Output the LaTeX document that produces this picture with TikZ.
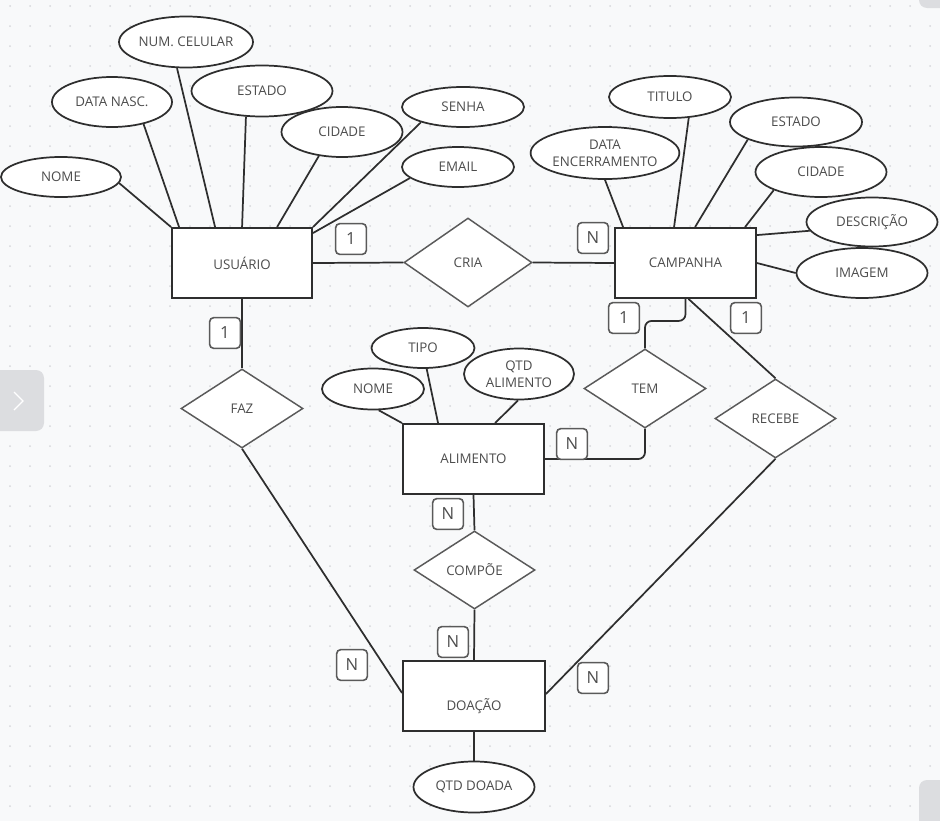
\documentclass[tikz,border=0pt]{standalone}
\usepackage{fontspec}
\setmainfont{Open Sans}
\usetikzlibrary{shapes.geometric}
\pgfdeclarelayer{grid}
\pgfdeclarelayer{edges}
\pgfsetlayers{grid,edges,main}
\definecolor{bgc}{HTML}{F8F9FA}
\definecolor{dotc}{HTML}{D6D8DB}
\definecolor{linec}{HTML}{2E2E2E}
\definecolor{txtc}{HTML}{4D4D4D}
\definecolor{diac}{HTML}{5A5A5A}
\definecolor{uic}{HTML}{DCDDE0}
\begin{document}
\begin{tikzpicture}[x=0.75pt,y=-0.75pt,
  erattr/.style 2 args={ellipse, draw=linec, line width=1.3pt, fill=white, inner sep=0pt,
    minimum width=#1*0.75pt, minimum height=#2*0.75pt,
    font=\fontsize{10}{12.75}\selectfont, text=txtc, align=center},
  erent/.style 2 args={rectangle, draw=linec, line width=1.4pt, fill=white, inner sep=0pt,
    minimum width=#1*0.75pt, minimum height=#2*0.75pt,
    font=\fontsize{10}{12}\selectfont, text=txtc},
  errel/.style 2 args={diamond, draw=diac, line width=1.1pt, fill=white, inner sep=0pt,
    minimum width=#1*0.75pt, minimum height=#2*0.75pt,
    font=\fontsize{10}{12}\selectfont, text=txtc},
  ercard/.style={draw=diac, line width=1.2pt, rounded corners=3pt, fill=white,
    minimum width=23pt, minimum height=23pt, inner sep=0pt,
    font=\fontsize{12.5}{14}\selectfont, text=txtc},
  erline/.style={draw=linec, line width=1.3pt}
]
\useasboundingbox (0,0) rectangle (940,821);
\begin{pgfonlayer}{grid}
  \clip (0,0) rectangle (940,821);
  \fill[bgc] (0,0) rectangle (940,821);
  \foreach \i in {0,...,46}{\foreach \j in {0,...,40}{\fill[dotc] (10+20*\i,6+20*\j) circle (0.75pt);}}
  \fill[uic, rounded corners=6pt] (-20,370) rectangle (44,431);
  \draw[white, line width=1pt] (14,392) -- (23,401) -- (14,410);
  \fill[uic, rounded corners=6pt] (919,780) rectangle (960,840);
  \fill[uic, rounded corners=6pt] (919,-20) rectangle (960,8);
\end{pgfonlayer}

% entities
\node[erent={140}{70}] (usuario) at (242,263) {USUÁRIO};
\node[erent={141}{70}] (campanha) at (685.5,263) {CAMPANHA};
\node[erent={141}{70}] (alimento) at (473.5,459) {ALIMENTO};
\node[erent={142}{70}, text height=22pt, text depth=0pt] (doacao) at (474,696) {DOAÇÃO};

% relationships
\node[errel={128}{89}] (cria) at (468,262.5) {CRIA};
\node[errel={122}{79}] (faz) at (242,408.5) {FAZ};
\node[errel={122}{79}] (tem) at (645,388.5) {TEM};
\node[errel={121}{79}] (recebe) at (775.5,418.5) {RECEBE};
\node[errel={121}{78}] (compoe) at (474.5,570) {COMPÕE};

% attributes of USUARIO
\node[erattr={120}{40}] (nomeU) at (61,177) {NOME};
\node[erattr={120}{50}] (datanasc) at (112,102) {DATA NASC.};
\node[erattr={132}{51}] (numcel) at (186,42) {NUM. CELULAR};
\node[erattr={141}{51}] (estadoU) at (262,91) {ESTADO};
\node[erattr={121}{50}] (cidadeU) at (342,132) {CIDADE};
\node[erattr={122}{40}] (senha) at (463,107) {SENHA};
\node[erattr={112}{40}] (email) at (458,167) {EMAIL};

% attributes of CAMPANHA
\node[erattr={122}{42}] (titulo) at (670,97) {TITULO};
\node[erattr={143}{52}] (dataenc) at (605,153) {DATA\\ENCERRAMENTO};
\node[erattr={132}{49}] (estadoC) at (796,122) {ESTADO};
\node[erattr={131}{50}] (cidadeC) at (821,172) {CIDADE};
\node[erattr={131}{49}] (descricao) at (872,222) {DESCRIÇÃO};
\node[erattr={131}{50}] (imagem) at (862,273) {IMAGEM};

% attributes of ALIMENTO
\node[erattr={102}{41}] (nomeA) at (373,389) {NOME};
\node[erattr={103}{40}] (tipo) at (423,348) {TIPO};
\node[erattr={110}{51}] (qtdal) at (519,374) {QTD\\ALIMENTO};

% attribute of DOACAO
\node[erattr={121}{51}] (qtddoada) at (474,787) {QTD DOADA};

% cardinalities
\node[ercard] (c1) at (351,239) {1};
\node[ercard] (c2) at (593,238) {N};
\node[ercard] (c3) at (225,333) {1};
\node[ercard] (c4) at (624,318) {1};
\node[ercard] (c5) at (746,318) {1};
\node[ercard] (c6) at (572,444) {N};
\node[ercard] (c7) at (448,514) {N};
\node[ercard] (c8) at (453,642) {N};
\node[ercard] (c9) at (352,665) {N};
\node[ercard] (c10) at (593,678) {N};

\begin{pgfonlayer}{edges}
  % USUARIO attributes
  \draw[erline] (nomeU.-6) -- (usuario.north west);
  \draw[erline] (datanasc.-35) -- ([xshift=6pt]usuario.north west);
  \draw[erline] (numcel.-109) -- ([xshift=33pt]usuario.north west);
  \draw[erline] (estadoU.-122) -- ([xshift=53.25pt]usuario.north west);
  \draw[erline] (cidadeU.-134) -- ([xshift=79.5pt]usuario.north west);
  \draw[erline] (senha.-160) -- (usuario.north east);
  \draw[erline] (email.-167) -- ([yshift=-4.5pt]usuario.north east);
  % CAMPANHA attributes
  \draw[erline] (dataenc.south) -- ([xshift=6.75pt]campanha.north west);
  \draw[erline] (titulo.-48) -- ([xshift=45pt]campanha.north west);
  \draw[erline] (estadoC.-160) -- ([xshift=60.75pt]campanha.north west);
  \draw[erline] (cidadeC.-159) -- ([xshift=98.25pt]campanha.north west);
  \draw[erline] (descricao.-172) -- ([yshift=-6pt]campanha.north east);
  \draw[erline] (imagem.west) -- (campanha.east);
  % ALIMENTO attributes
  \draw[erline] (nomeA.-75) -- (alimento.north west);
  \draw[erline] (tipo.-80) -- ([xshift=27pt]alimento.north west);
  \draw[erline] (qtdal.-92) -- ([xshift=69.75pt]alimento.north west);
  % DOACAO attribute
  \draw[erline] (doacao.south) -- (qtddoada.north);
  % relationships
  \draw[erline] (usuario.east) -- (cria.west);
  \draw[erline] (cria.east) -- (campanha.west);
  \draw[erline] (usuario.south) -- (faz.north);
  \draw[erline] (faz.south) -- ([yshift=2.25pt]doacao.west);
  \draw[erline, rounded corners=5pt] (campanha.south) -- ++(0,22) -| (tem.north);
  \draw[erline, rounded corners=5pt] (tem.south) |- (alimento.east);
  \draw[erline] ([xshift=2.25pt]campanha.south) -- (recebe.north);
  \draw[erline] (recebe.south) -- ([yshift=1.5pt]doacao.east);
  \draw[erline] (alimento.south) -- (compoe.north);
  \draw[erline] (compoe.south) -- (doacao.north);
\end{pgfonlayer}
\end{tikzpicture}
\end{document}
